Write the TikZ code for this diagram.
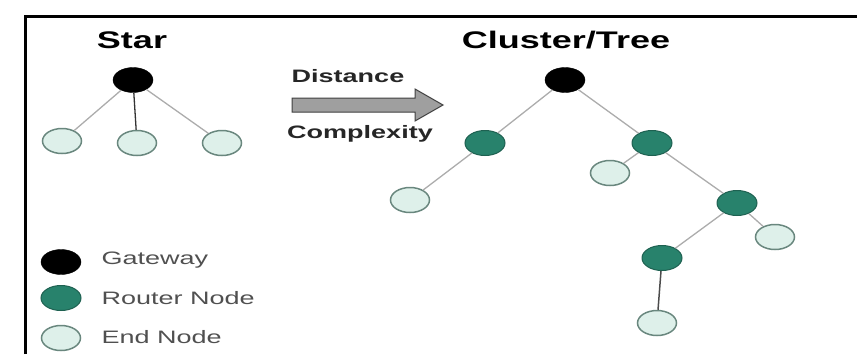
\documentclass[tikz,border=0pt]{standalone}
\usepackage{fontspec}
\setmainfont{Liberation Sans}
\usetikzlibrary{shapes.geometric, positioning}

\definecolor{routerteal}{RGB}{40,130,108}
\definecolor{endfill}{RGB}{222,240,234}
\definecolor{enddraw}{RGB}{105,135,126}
\definecolor{legendgray}{RGB}{80,80,80}
\newcommand{\widetext}[1]{\scalebox{1.5}[1]{#1}}

\begin{document}
\begin{tikzpicture}[x=1pt,y=-1pt,
    gateway/.style={ellipse,draw=black,fill=black,minimum width=40pt,minimum height=25pt,inner sep=0pt},
    router/.style={ellipse,draw=routerteal!75!black,fill=routerteal,line width=1pt,minimum width=40pt,minimum height=25pt,inner sep=0pt},
    endnode/.style={ellipse,draw=enddraw,fill=endfill,line width=1.5pt,minimum width=39pt,minimum height=25pt,inner sep=0pt},
    link/.style={draw=gray!65,line width=1.3pt},
    title/.style={font=\fontsize{24}{24}\selectfont\bfseries},
    arrowtext/.style={font=\fontsize{18}{18}\selectfont\bfseries,text=black!85},
    legendtext/.style={font=\fontsize{18}{18}\selectfont,text=legendgray,anchor=west}]
    \useasboundingbox (0,0) rectangle (857,354);

    % Rahmen
    \draw[line width=3pt] (25,354) -- (25,16) -- (857,16);

    % Star
    \node[title] (startitle) at (132,40) {\widetext{Star}};
    \node[gateway] (sgw) at (133,80) {};
    \node[endnode] (se1) at (62,141) {};
    \node[endnode] (se2) at (137,143) {};
    \node[endnode] (se3) at (222,143) {};
    \draw[link] (sgw) -- (se1);
    \draw[line width=1.3pt,black!80] (sgw) -- (se2);
    \draw[link] (sgw) -- (se3);

    % Pfeil
    \node[arrowtext] (dist) at (348,76) {\widetext{Distance}};
    \node[arrowtext] (compl) at (360,134) {\widetext{Complexity}};
    \filldraw[fill=gray!75,draw=black!75,line width=1pt]
        (292,98) -- (415,98) -- (415,89) -- (443,105) -- (415,121) -- (415,112) -- (292,112) -- cycle;

    % Cluster/Tree
    \node[title] (treetitle) at (566,40) {\widetext{Cluster/Tree}};
    \node[gateway] (tgw) at (565,80) {};
    \node[router] (r1) at (485,143) {};
    \node[router] (r2) at (652,143) {};
    \node[router] (r3) at (737,203) {};
    \node[router] (r4) at (662,258) {};
    \node[endnode] (e1) at (410,200) {};
    \node[endnode] (e2) at (610,173) {};
    \node[endnode] (e3) at (775,237) {};
    \node[endnode] (e4) at (657,323) {};
    \draw[link] (tgw) -- (r1);
    \draw[link] (tgw) -- (r2);
    \draw[link] (r1) -- (e1);
    \draw[link] (r2) -- (e2);
    \draw[link] (r2) -- (r3);
    \draw[link] (r3) -- (e3);
    \draw[link] (r3) -- (r4);
    \draw[line width=1.5pt,black!70] (r4) -- (e4);

    % Legende
    \node[gateway] (lgw) at (61,262) {};
    \node[legendtext] (lgwtext) at (98,260) {\widetext{Gateway}};
    \node[router] (lr) at (61,298) {};
    \node[legendtext] (lrtext) at (98,298) {\widetext{Router Node}};
    \node[endnode] (le) at (61,338) {};
    \node[legendtext] (letext) at (98,337) {\widetext{End Node}};
\end{tikzpicture}
\end{document}
